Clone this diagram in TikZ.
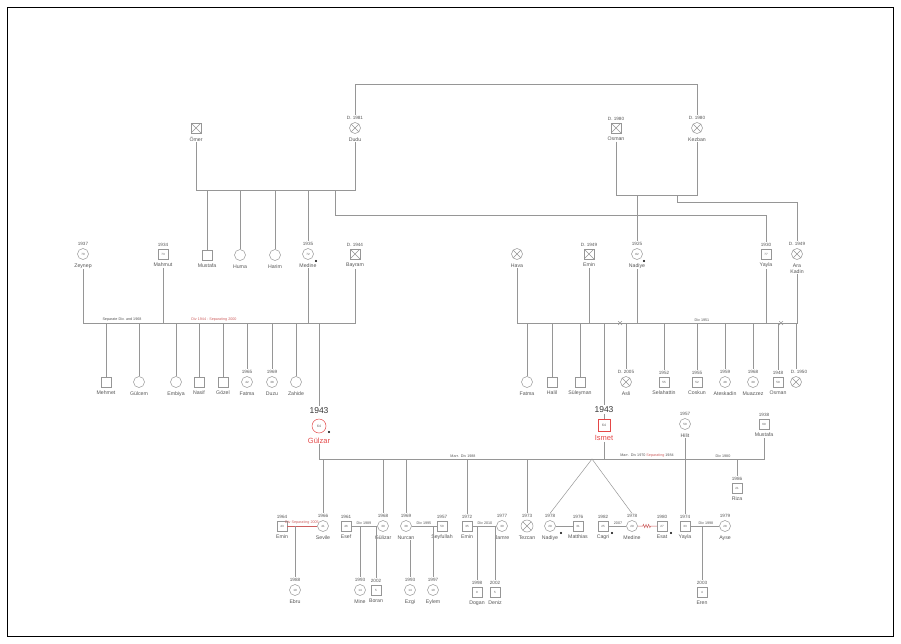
\documentclass[tikz,border=0pt]{standalone}
\usepackage{fontspec}
\setmainfont{Liberation Sans}
\usetikzlibrary{decorations.pathmorphing}
\definecolor{linegray}{RGB}{150,150,150}
\definecolor{txtgray}{RGB}{85,85,85}
\definecolor{focusred}{RGB}{228,72,72}
\definecolor{conflictred}{RGB}{205,95,95}
\newcommand{\namefont}{\fontsize{5.2}{5.8}\selectfont}
\newcommand{\yearfont}{\fontsize{4.6}{5}\selectfont}
\newcommand{\agefont}{\fontsize{3}{3.2}\selectfont}
\newcommand{\relfont}{\fontsize{3.7}{4}\selectfont}
\tikzset{
  rel/.style={linegray,line width=0.5pt},
  redrel/.style={conflictred,line width=0.5pt},
  male/.style={draw=linegray,line width=0.5pt,fill=white,rectangle,minimum size=10pt,
               inner sep=0pt,font=\agefont,text=txtgray},
  female/.style={male,circle,minimum size=11pt},
  dead/.style={path picture={\draw[linegray,line width=0.5pt]
      (path picture bounding box.north west)--(path picture bounding box.south east)
      (path picture bounding box.north east)--(path picture bounding box.south west);}},
  focus/.style={draw=focusred,minimum size=14pt,font=\fontsize{3.4}{3.6}\selectfont},
  nm/.style={font=\namefont,text=txtgray,inner sep=0.7pt,yshift=-3pt},
  yr/.style={font=\yearfont,text=txtgray,inner sep=0.7pt,yshift=1.8pt},
  bigyr/.style={font=\fontsize{8.5}{9}\selectfont,text=black!80,inner sep=1pt,yshift=4pt},
  focusnm/.style={font=\fontsize{7.5}{8}\selectfont,text=focusred,inner sep=0.8pt,yshift=-3.5pt},
  marr/.style={font=\relfont,text=txtgray,inner sep=0.4pt,anchor=south},
  dot/.style={circle,fill=black,inner sep=0pt,minimum size=2.2pt},
  divmark/.style={minimum size=4pt,inner sep=0pt,dead},
}

\begin{document}
\begin{tikzpicture}[x=1pt,y=-1pt]
  \path[use as bounding box] (0,0) rectangle (901,643);
  \draw[black,line width=1pt] (7,7) rectangle (893,636);

  % levels of the relation lines
  \coordinate (topline) at (0,84);
  \coordinate (m1) at (0,190);
  \coordinate (m2) at (0,195);
  \coordinate (m2b) at (0,202);
  \coordinate (m1b) at (0,215);
  \coordinate (m3) at (0,323);
  \coordinate (m5) at (0,459);

  % generation 1
  \node[male,dead,label={[nm,name=omerN]below:Ömer}] (omer) at (196,128) {};
  \node[female,dead,label={[yr,name=dudu1Y]above:D. 1981},label={[nm,name=dudu1N]below:Dudu}] (dudu1) at (355,128) {};
  \node[male,dead,label={[yr,name=osman1Y]above:D. 1980},label={[nm,name=osman1N]below:Osman}] (osman1) at (616,128) {};
  \node[female,dead,label={[yr,name=kezbanY]above:D. 1980},label={[nm,name=kezbanN]below:Kezban}] (kezban) at (697,128) {};

  % generation 2, left
  \node[female,label={[yr,name=zeynepY]above:1937},label={[nm,name=zeynepN]below:Zeynep}] (zeynep) at (83,254) {70};
  \node[male,label={[yr,name=mahmutY]above:1934},label={[nm,name=mahmutN]below:Mahmut}] (mahmut) at (163,254) {73};
  \node[male,label={[nm,name=mustafa1N]below:Mustafa}] (mustafa1) at (207,255) {};
  \node[female,label={[nm,name=humaN]below:Huma}] (huma) at (240,255) {};
  \node[female,label={[nm,name=harimN]below:Harim}] (harim) at (275,255) {};
  \node[female,label={[yr,name=medine1Y]above:1935},label={[nm,name=medine1N]below:Medine}] (medine1) at (308,254) {72};
  \node[male,dead,label={[yr,name=bayramY]above:D. 1944},label={[nm,name=bayramN]below:Bayram}] (bayram) at (355,254) {};
  \node[dot] (medine1d) at (316,261) {};

  % generation 2, right
  \node[female,dead,label={[nm,name=havaN]below:Hava}] (hava) at (517,254) {};
  \node[male,dead,label={[yr,name=emin1Y]above:D. 1949},label={[nm,name=emin1N]below:Emin}] (emin1) at (589,254) {};
  \node[female,label={[yr,name=nadiye1Y]above:1925},label={[nm,name=nadiye1N]below:Nadiye}] (nadiye1) at (637,254) {82};
  \node[male,label={[yr,name=yayla1Y]above:1930},label={[nm,name=yayla1N]below:Yayla}] (yayla1) at (766,254) {77};
  \node[female,dead,label={[yr,name=araY]above:D. 1949},label={[nm,name=araN,align=center]below:Ara\\Kadin}] (ara) at (797,254) {};
  \node[dot] (nadiye1d) at (644,261) {};

  \draw[rel] (dudu1Y.north) |- (kezbanY.north |- topline) -- (kezbanY.north);
  \draw[rel] (omerN.south) |- (dudu1N.south |- m1) -- (dudu1N.south);
  \draw[rel] (mustafa1.north |- m1) -- (mustafa1.north);
  \draw[rel] (huma.north |- m1) -- (huma.north);
  \draw[rel] (harim.north |- m1) -- (harim.north);
  \draw[rel] (medine1Y.north |- m1) -- (medine1Y.north);
  \coordinate (yb) at (335,190);
  \draw[rel] (yb) |- (yayla1Y.north |- m1b) -- (yayla1Y.north);
  \draw[rel] (osman1N.south) |- (kezbanN.south |- m2) -- (kezbanN.south);
  \draw[rel] (nadiye1Y.north |- m2) -- (nadiye1Y.north);
  \coordinate (ab) at (677,195);
  \draw[rel] (ab) |- (araY.north |- m2b) -- (araY.north);

  % left family line
  \draw[rel] (zeynepN.south) |- (bayramN.south |- m3) -- (bayramN.south);
  \draw[rel] (mahmutN.south) -- (mahmutN.south |- m3);
  \draw[rel] (medine1N.south) -- (medine1N.south |- m3);
  \node[marr] (lab1) at (122,322) {Separate Div. and 1968};
  \node[marr,text=conflictred] (lab2) at (214,322) {Div 1944 - Separating 2000};

  % right family line
  \draw[rel] (havaN.south) |- (araN.south |- m3) -- (araN.south);
  \draw[rel] (emin1N.south) -- (emin1N.south |- m3);
  \draw[rel] (nadiye1N.south) -- (nadiye1N.south |- m3);
  \draw[rel] (yayla1N.south) -- (yayla1N.south |- m3);
  \node[divmark] (dx1) at (620,323) {};
  \node[divmark] (dx2) at (781,323) {};
  \node[marr] (lab3) at (702,322) {Div 1951};

  % generation 3, left children
  \node[male,label={[nm,name=mehmetN]below:Mehmet}] (mehmet) at (106,382) {};
  \node[female,label={[nm,name=gulcemN]below:Gülcem}] (gulcem) at (139,382) {};
  \node[female,label={[nm,name=embiyaN]below:Embiya}] (embiya) at (176,382) {};
  \node[male,label={[nm,name=nasifN]below:Nasif}] (nasif) at (199,382) {};
  \node[male,label={[nm,name=gozelN]below:Gözel}] (gozel) at (223,382) {};
  \node[female,label={[yr,name=fatma1Y]above:1965},label={[nm,name=fatma1N]below:Fatma}] (fatma1) at (247,382) {42};
  \node[female,label={[yr,name=duzuY]above:1969},label={[nm,name=duzuN]below:Duzu}] (duzu) at (272,382) {38};
  \node[female,label={[nm,name=zahideN]below:Zahide}] (zahide) at (296,382) {};
  \foreach \kid in {mehmet,gulcem,embiya,nasif,gozel,zahide}
    \draw[rel] (\kid.north |- m3) -- (\kid.north);
  \draw[rel] (fatma1Y.north |- m3) -- (fatma1Y.north);
  \draw[rel] (duzuY.north |- m3) -- (duzuY.north);

  % generation 3, right children
  \node[female,label={[nm,name=fatma2N]below:Fatma}] (fatma2) at (527,382) {};
  \node[male,label={[nm,name=halilN]below:Halil}] (halil) at (552,382) {};
  \node[male,label={[nm,name=suleymanN]below:Süleyman}] (suleyman) at (580,382) {};
  \node[female,dead,label={[yr,name=asliY]above:D. 2005},label={[nm,name=asliN]below:Asli}] (asli) at (626,382) {};
  \node[male,label={[yr,name=selahattinY]above:1952},label={[nm,name=selahattinN]below:Selahattin}] (selahattin) at (664,382) {55};
  \node[male,label={[yr,name=coskunY]above:1955},label={[nm,name=coskunN]below:Coskun}] (coskun) at (697,382) {52};
  \node[female,label={[yr,name=ateskadinY]above:1959},label={[nm,name=ateskadinN]below:Ateskadin}] (ateskadin) at (725,382) {48};
  \node[female,label={[yr,name=muazzezY]above:1968},label={[nm,name=muazzezN]below:Muazzez}] (muazzez) at (753,382) {39};
  \node[male,label={[yr,name=osman2Y]above:1948},label={[nm,name=osman2N]below:Osman}] (osman2) at (778,382) {59};
  \node[female,dead,label={[yr,name=d1950Y,xshift=3pt]above:D. 1950}] (d1950) at (796,382) {};
  \foreach \kid in {fatma2,halil,suleyman}
    \draw[rel] (\kid.north |- m3) -- (\kid.north);
  \foreach \kid in {asli,selahattin,coskun,ateskadin,muazzez,osman2}
    \draw[rel] (\kid Y.north |- m3) -- (\kid Y.north);
  \draw[rel] (d1950.north |- m3) -- (d1950Y.north -| d1950.north);

  % generation 3, the couple
  \node[female,focus,label={[bigyr,name=gulzarY]above:1943},label={[focusnm,name=gulzarN]below:Gülzar}] (gulzar) at (319,426) {64};
  \node[dot] (gulzard) at (329,432) {};
  \node[male,focus,minimum size=12pt,label={[bigyr,name=ismetY,yshift=1pt]above:1943},label={[focusnm,name=ismetN]below:Ismet}] (ismet) at (604,425) {64};
  \node[female,label={[yr,name=hilitY]above:1957},label={[nm,name=hilitN]below:Hilit}] (hilit) at (685,424) {50};
  \node[male,label={[yr,name=mustafa2Y]above:1938},label={[nm,name=mustafa2N]below:Mustafa}] (mustafa2) at (764,424) {69};
  \node[male,label={[yr,name=rizaY]above:1986},label={[nm,name=rizaN]below:Riza}] (riza) at (737,488) {21};
  \draw[rel] (gulzarY.north |- m3) -- (gulzarY.north);
  \draw[rel] (ismetY.north |- m3) -- (ismetY.north);
  \draw[rel] (ismetY.south) -- (ismet.north);
  \draw[rel] (gulzarN.south) |- (mustafa2N.south |- m5) -- (mustafa2N.south);
  \draw[rel] (ismetN.south) -- (ismetN.south |- m5);
  \draw[rel] (rizaY.north |- m5) -- (rizaY.north);
  \node[marr] (lab4) at (463,458) {Marr.\ \ Div 1988};
  \node[marr] (lab5) at (647,458) {Marr.\ \ Div 1970 \textcolor{conflictred}{Separating} 1984};
  \node[marr] (lab6) at (723,458) {Div 1980};

  % generation 4
  \node[male,label={[yr,name=emin2Y]above:1964},label={[nm,name=emin2N]below:Emin}] (emin2) at (282,526) {43};
  \node[female,label={[yr,name=sevileY]above:1966},label={[nm,name=sevileN]below:Sevile}] (sevile) at (323,526) {41};
  \node[male,label={[yr,name=esefY]above:1961},label={[nm,name=esefN]below:Esef}] (esef) at (346,526) {46};
  \node[female,label={[yr,name=gulizarY]above:1968},label={[nm,name=gulizarN]below:Gülizar}] (gulizar) at (383,526) {39};
  \node[female,label={[yr,name=nurcanY]above:1969},label={[nm,name=nurcanN]below:Nurcan}] (nurcan) at (406,526) {38};
  \node[male,label={[yr,name=seyfullahY]above:1957},label={[nm,name=seyfullahN]below:Seyfullah}] (seyfullah) at (442,526) {50};
  \node[male,label={[yr,name=emin3Y]above:1972},label={[nm,name=emin3N]below:Emin}] (emin3) at (467,526) {35};
  \node[female,label={[yr,name=jamreY]above:1977},label={[nm,name=jamreN]below:Jamre}] (jamre) at (502,526) {30};
  \node[female,dead,minimum size=12pt,label={[yr,name=tezcanY]above:1973},label={[nm,name=tezcanN]below:Tezcan}] (tezcan) at (527,526) {};
  \node[female,label={[yr,name=nadiye2Y]above:1978},label={[nm,name=nadiye2N]below:Nadiye}] (nadiye2) at (550,526) {29};
  \node[male,label={[yr,name=matthiasY]above:1976},label={[nm,name=matthiasN]below:Matthias}] (matthias) at (578,526) {31};
  \node[male,label={[yr,name=cagriY]above:1982},label={[nm,name=cagriN]below:Cagri}] (cagri) at (603,526) {25};
  \node[female,label={[yr,name=medine2Y]above:1978},label={[nm,name=medine2N]below:Medine}] (medine2) at (632,526) {29};
  \node[male,label={[yr,name=esatY]above:1980},label={[nm,name=esatN]below:Esat}] (esat) at (662,526) {27};
  \node[male,label={[yr,name=yayla2Y]above:1974},label={[nm,name=yayla2N]below:Yayla}] (yayla2) at (685,526) {33};
  \node[female,label={[yr,name=ayseY]above:1979},label={[nm,name=ayseN]below:Ayse}] (ayse) at (725,526) {28};
  \node[dot] (nadiye2d) at (561,533) {};
  \node[dot] (cagrid) at (612,533) {};
  \node[dot] (esatd) at (671,533) {};

  \foreach \kid in {sevile,gulizar,nurcan,emin3,tezcan}
    \draw[rel] (\kid Y.north |- m5) -- (\kid Y.north);
  \coordinate (tw) at (592,459);
  \draw[rel] (nadiye2Y.north) -- (tw) -- (medine2Y.north);
  \draw[rel] (hilitN.south) -- (yayla2Y.north);

  \draw[redrel] (emin2.east) -- (sevile.west);
  \draw[rel] (esef.east) -- (gulizar.west);
  \draw[rel] (nurcan.east) -- (seyfullah.west);
  \draw[rel] (emin3.east) -- (jamre.west);
  \draw[rel] (nadiye2.east) -- (matthias.west);
  \draw[rel] (cagri.east) -- (medine2.west);
  \draw[redrel,decorate,decoration={zigzag,segment length=2.6pt,amplitude=1.6pt,pre length=5pt,post length=5pt}] (medine2.east) -- (esat.west);
  \draw[rel] (yayla2.east) -- (ayse.west);
  \node[marr,text=conflictred] (lab7) at (302,525) {Div Separating 2005};
  \node[marr] (lab8) at (364,525) {Div 1989};
  \node[marr] (lab9) at (424,525) {Div 1995};
  \node[marr] (lab10) at (485,525) {Div 2010};
  \node[marr] (lab11) at (618,525) {2007};
  \node[marr] (lab12) at (706,525) {Div 1998};

  % generation 5
  \node[female,label={[yr,name=ebruY]above:1988},label={[nm,name=ebruN]below:Ebru}] (ebru) at (295,590) {19};
  \node[female,label={[yr,name=mineY]above:1993},label={[nm,name=mineN]below:Mine}] (mine) at (360,590) {14};
  \node[male,label={[yr,name=boranY]above:2002},label={[nm,name=boranN]below:Boran}] (boran) at (376,590) {5};
  \node[female,label={[yr,name=ezgiY]above:1993},label={[nm,name=ezgiN]below:Ezgi}] (ezgi) at (410,590) {14};
  \node[female,label={[yr,name=eylemY]above:1997},label={[nm,name=eylemN]below:Eylem}] (eylem) at (433,590) {10};
  \node[male,label={[yr,name=doganY]above:1998},label={[nm,name=doganN]below:Dogan}] (dogan) at (477,592) {9};
  \node[male,label={[yr,name=denizY]above:2002},label={[nm,name=denizN]below:Deniz}] (deniz) at (495,592) {5};
  \node[male,label={[yr,name=erenY]above:2003},label={[nm,name=erenN]below:Eren}] (eren) at (702,592) {4};
  \draw[rel] (ebruY.north |- emin2.east) -- (ebruY.north);
  \draw[rel] (mineY.north |- esef.east) -- (mineY.north);
  \draw[rel] (boranY.north |- esef.east) -- (boranY.north);
  \draw[rel] (ezgiY.north |- nurcanN.south) -- (ezgiY.north);
  \draw[rel] (eylemY.north |- nurcan.east) -- (eylemY.north);
  \draw[rel] (doganY.north |- emin3.east) -- (doganY.north);
  \draw[rel] (denizY.north |- emin3.east) -- (denizY.north);
  \draw[rel] (erenY.north |- yayla2.east) -- (erenY.north);
\end{tikzpicture}
\end{document}
